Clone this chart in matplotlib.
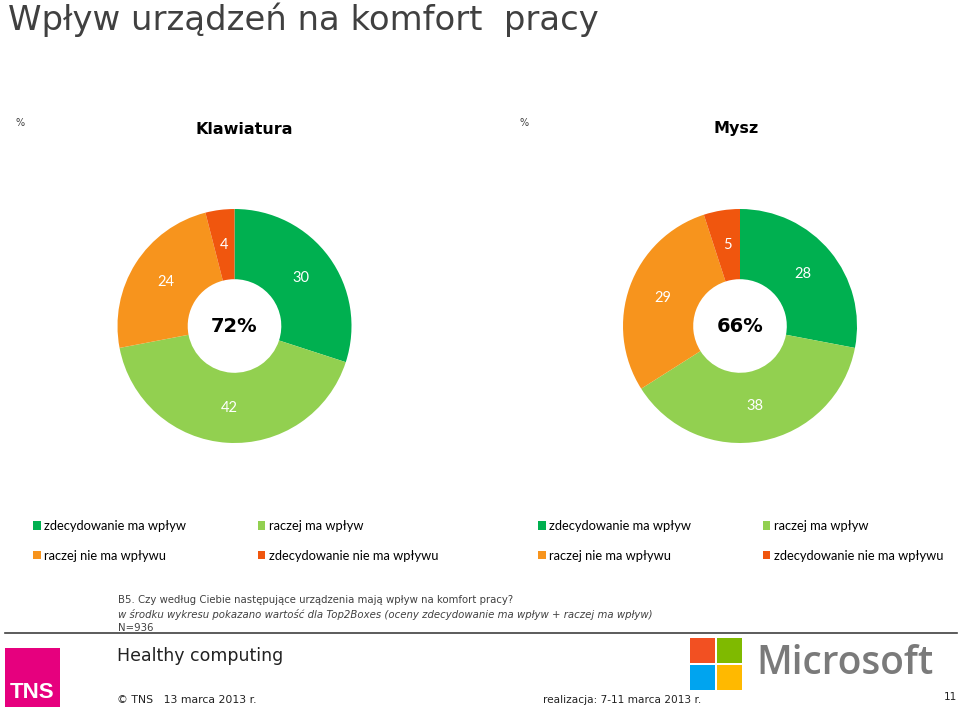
import matplotlib
matplotlib.use("Agg")
import matplotlib.pyplot as plt
from matplotlib.patches import Rectangle

W, H = 960, 708

categories = ["zdecydowanie ma wpływ", "raczej ma wpływ",
              "raczej nie ma wpływu", "zdecydowanie nie ma wpływu"]
colors = ["#00B050", "#92D050", "#F7941D", "#F0560E"]

klawiatura = [30, 42, 24, 4]
mysz = [28, 38, 29, 5]
charts = [("Klawiatura", klawiatura), ("Mysz", mysz)]
top2 = [sum(v[:2]) for _, v in charts]

title = "Wpływ urządzeń na komfort  pracy"
question = "B5. Czy według Ciebie następujące urządzenia mają wpływ na komfort pracy?"
note = ("w środku wykresu pokazano wartość dla Top2Boxes "
        "(oceny zdecydowanie ma wpływ + raczej ma wpływ)")
base = "N=936"


def fx(x):
    return x / W


def fy(y):
    return 1 - y / H


fig = plt.figure(figsize=(W / 100, H / 100), dpi=100)
fig.patch.set_facecolor("white")

fig.text(fx(8), fy(20), title, fontsize=24.4, color="#404040",
         family="DejaVu Sans", va="center", ha="left")

R = 117
centers = [(234.5, 326), (740, 326)]
heads = [(15, 244), (519, 736)]
legend_x = [33, 538]

for (name, vals), (cx, cy), (px, hx), lx, t2 in zip(charts, centers, heads,
                                                    legend_x, top2):
    fig.text(fx(px), fy(123), "%", fontsize=7, color="#404040",
             ha="left", va="center")
    fig.text(fx(hx), fy(129), name, fontsize=11.5, fontweight="bold",
             color="black", ha="center", va="center")

    ax = fig.add_axes([fx(cx - R), fy(cy + R), 2 * R / W, 2 * R / H])
    wedges, _, autotexts = ax.pie(
        vals, colors=colors, startangle=90, counterclock=False, radius=1,
        wedgeprops=dict(width=0.6, linewidth=0),
        autopct=lambda p: f"{p:.0f}", pctdistance=0.7,
        textprops=dict(color="white", fontsize=10.5, family="Lato"))
    ax.set_xlim(-1, 1)
    ax.set_ylim(-1, 1)
    ax.text(0, 0, f"{t2}%", ha="center", va="center", fontsize=14,
            fontweight="bold", color="black")

    # column-wise fill: zdec. ma / raczej nie ma | raczej ma / zdec. nie ma
    order = [0, 2, 1, 3]
    fig.legend([wedges[i] for i in order], [categories[i] for i in order],
               ncol=2, loc="upper left",
               bbox_to_anchor=(fx(lx), fy(520)), frameon=False,
               prop=dict(family="Lato", size=9.3),
               handlelength=0.6, handleheight=0.6, handletextpad=0.25,
               labelspacing=1.36, columnspacing=5.55,
               borderaxespad=0, borderpad=0)

fig.text(fx(118), fy(600), question, fontsize=7.3, color="#404040",
         ha="left", va="center")
fig.text(fx(118), fy(614), note, fontsize=7.3, color="#404040",
         style="italic", ha="left", va="center")
fig.text(fx(118), fy(628), base, fontsize=7.3, color="#404040",
         ha="left", va="center")

fig.add_artist(plt.Line2D([fx(5), fx(957)], [fy(633), fy(633)],
                          color="#404040", linewidth=1.2))

# TNS logo
fig.add_artist(Rectangle((fx(5), fy(707)), 55 / W, 59 / H,
                         transform=fig.transFigure, color="#E6007E", lw=0))
fig.text(fx(10), fy(693), "TNS", fontsize=16, fontweight="bold",
         color="white", family="Liberation Sans",
         ha="left", va="center")

fig.text(fx(117), fy(656), "Healthy computing", fontsize=12.5,
         color="#222222", ha="left", va="center")
fig.text(fx(117), fy(700), "\u00a9 TNS   13 marca 2013 r.", fontsize=7.8,
         color="#222222", ha="left", va="center")
fig.text(fx(543), fy(700), "realizacja: 7-11 marca 2013 r.", fontsize=7.6,
         color="#222222", ha="left", va="center")
fig.text(fx(957), fy(697), "11", fontsize=7.6, color="#222222",
         ha="right", va="center")

# Microsoft logo
ms = [("#F25022", 690, 638), ("#7FBA00", 717, 638),
      ("#00A4EF", 690, 665), ("#FFB900", 717, 665)]
for c, x0, y0 in ms:
    fig.add_artist(Rectangle((fx(x0), fy(y0 + 25)), 25 / W, 25 / H,
                             transform=fig.transFigure, color=c, lw=0))
fig.text(fx(756), fy(664), "Microsoft", fontsize=28, fontweight="semibold",
         color="#7A7A7A", family="Open Sans", ha="left", va="center")

fig.savefig("out.png", dpi=100)
